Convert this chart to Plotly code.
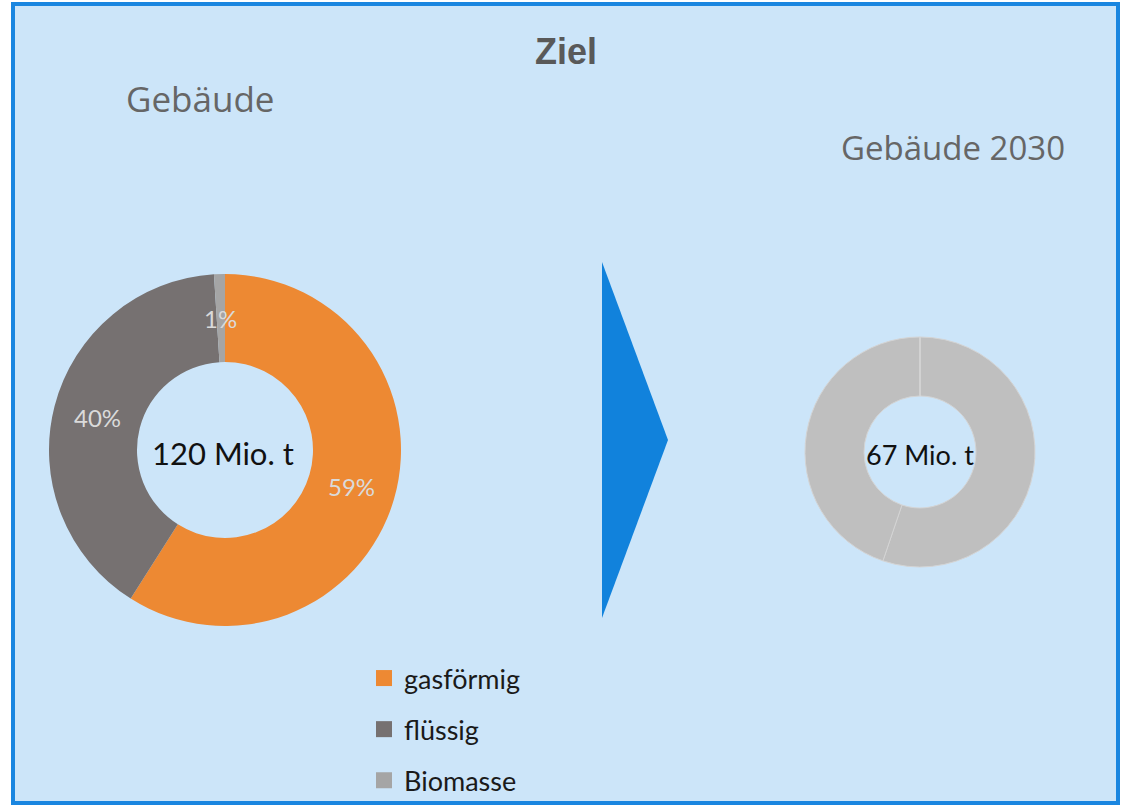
import math
import plotly.graph_objects as go

W, H = 1124, 805

categories = ["gasförmig", "flüssig", "Biomasse"]
colors = ["#ED8933", "#767171", "#A5A5A5"]
shares_today = [59, 40, 1]
values_2030 = [37, 30, 0]
totals = ["120 Mio. t", "67 Mio. t"]
panel_titles = ["Gebäude", "Gebäude 2030"]
main_title = "Ziel"

BG = "#CCE5F9"
BLUE = "#1182DC"

def px(x):
    return x / W

def py(y):
    return 1 - y / H

# left donut geometry (pixels)
LCX, LCY, LR, LHOLE = 225, 450, 176, 0.5
# right donut geometry (pixels)
RCX, RCY, RR, RHOLE = 920, 452, 115, 0.487

fig = go.Figure()

fig.add_trace(go.Pie(
    labels=categories, values=shares_today, sort=False, direction="clockwise",
    rotation=0, hole=LHOLE,
    marker=dict(colors=colors, line=dict(width=0)),
    textinfo="none",
    domain=dict(x=[px(LCX - LR), px(LCX + LR)], y=[py(LCY + LR), py(LCY - LR)]),
    showlegend=False, hoverinfo="label+percent",
))

fig.add_trace(go.Pie(
    labels=categories, values=values_2030, sort=False, direction="clockwise",
    rotation=0, hole=RHOLE,
    marker=dict(colors=["#BFBFBF"] * 3, line=dict(width=1, color="#D4D4D4")),
    textinfo="none",
    domain=dict(x=[px(RCX - RR), px(RCX + RR)], y=[py(RCY + RR), py(RCY - RR)]),
    showlegend=False,
))

# legend entries
for i, (c, col) in enumerate(zip(categories, colors)):
    fig.add_trace(go.Scatter(
        x=[None], y=[None], mode="markers", name=c,
        marker=dict(symbol="square", size=17, color=col),
        legendgroup=f"g{i}", showlegend=True,
    ))

fig.update_xaxes(visible=False)
fig.update_yaxes(visible=False)

shapes = [
    dict(type="rect", xref="paper", yref="paper",
         x0=px(13), x1=px(1118), y0=py(803), y1=py(4),
         fillcolor=BG, line=dict(color="#1A86E0", width=4), layer="below"),
    dict(type="path", xref="paper", yref="paper",
         path=f"M {px(602)},{py(262)} L {px(668)},{py(440)} L {px(602)},{py(618)} Z",
         fillcolor=BLUE, line=dict(width=0)),
]

def ann(text, x, y, size, family, color):
    return dict(text=text, x=px(x), y=py(y), xref="paper", yref="paper",
                xanchor="center", yanchor="middle", showarrow=False,
                font=dict(family=family, size=size, color=color))

annotations = [
    ann(f"<b>{main_title}</b>", 566, 52, 36, "Arial", "#595959"),
    ann(panel_titles[0], 200, 99, 35, "Open Sans", "#666666"),
    ann(panel_titles[1], 953, 148, 33, "Open Sans", "#666666"),
    ann(totals[0], 223, 453, 31, "Lato", "#111111"),
    ann(totals[1], 920, 454, 27, "Lato", "#111111"),
]

# percentage labels at the middle of each ring slice
total = sum(shares_today)
cum = 0
rmid = LR * (1 + LHOLE) / 2
for v in shares_today:
    mid = (cum + v / 2) / total * 2 * math.pi
    cum += v
    x = LCX + rmid * math.sin(mid)
    y = LCY - rmid * math.cos(mid)
    annotations.append(ann(f"{round(v / total * 100)}%", x, y, 24, "Lato", "#DADADA"))

fig.update_layout(
    width=W, height=H,
    margin=dict(l=0, r=0, t=0, b=0, autoexpand=False),
    paper_bgcolor="white", plot_bgcolor="rgba(0,0,0,0)",
    shapes=shapes, annotations=annotations,
    legend=dict(x=px(364), y=py(654), xanchor="left", yanchor="top",
                bgcolor="rgba(0,0,0,0)", tracegroupgap=13,
                font=dict(family="Lato", size=27, color="#1A1A1A")),
)

post = (
    "var h=document.documentElement, b=document.body;"
    "h.style.margin='0'; b.style.margin='0';"
    "b.style.fontSize='0'; b.style.lineHeight='0';"
    "h.style.overflow='hidden'; b.style.overflow='hidden';"
)

fig.write_html("out.html", config={"displayModeBar": False}, post_script=post)
